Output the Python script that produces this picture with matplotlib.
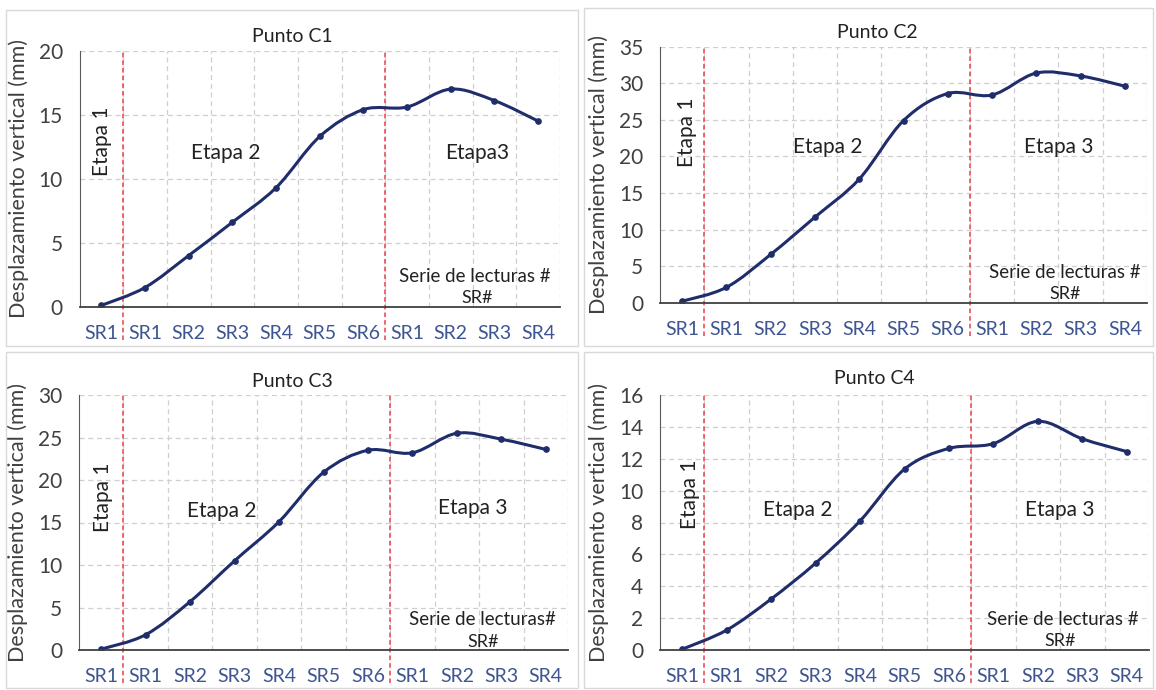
import numpy as np
import matplotlib.pyplot as plt
from matplotlib.path import Path
from matplotlib.patches import PathPatch, Rectangle

plt.rcParams['font.family'] = ['Lato', 'DejaVu Sans']

# x categories (series of readings)
x_labels = ['SR1', 'SR1', 'SR2', 'SR3', 'SR4', 'SR5', 'SR6', 'SR1', 'SR2', 'SR3', 'SR4']

# vertical displacement (mm)
c1 = [0.1, 1.5, 4.0, 6.6, 9.3, 13.3, 15.4, 15.6, 17.0, 16.1, 14.5]
c2 = [0.2, 2.1, 6.6, 11.7, 16.9, 24.9, 28.6, 28.4, 31.4, 31.0, 29.6]
c3 = [0.1, 1.8, 5.7, 10.5, 15.1, 20.9, 23.5, 23.2, 25.5, 24.8, 23.6]
c4 = [0.05, 1.25, 3.2, 5.45, 8.1, 11.35, 12.65, 12.95, 14.35, 13.25, 12.45]

titles = ['Punto C1', 'Punto C2', 'Punto C3', 'Punto C4']
series = [c1, c2, c3, c4]
ymax = [20, 35, 30, 16]
ystep = [5, 5, 5, 2]
stage_bounds = [0.5, 6.5]

navy = '#1F2D6B'
tick_blue = '#3E5592'
grey_txt = '#404040'

fig = plt.figure(figsize=(11.56, 6.9), dpi=100)

# panel frames (pixels: x0, y0_top, x1, y1_bottom)
frames = [(6, 10, 578, 346), (584, 8, 1153, 346), (6, 352, 578, 688), (584, 352, 1153, 688)]
for fx0, fy0, fx1, fy1 in frames:
    fig.patches.append(Rectangle((fx0 / 1156, 1 - fy1 / 690), (fx1 - fx0) / 1156, (fy1 - fy0) / 690,
                                 transform=fig.transFigure, fill=False, edgecolor='#D9D9D9', lw=1))

# axes positions in pixels (left, right, top, bottom)
axes_px = [(79.5, 560, 50.7, 306.7), (660, 1147, 46.7, 302.7), (79, 568, 395, 650), (660, 1149, 395, 650)]
title_px = [(292, 36), (877, 33), (292, 382), (874, 379)]

# text positions in data coords: etapa1, etapa2, etapa3 (centres), serie, sr# (baselines)
txt_pos = [
    [(0.02, 12.9), (2.85, 12.0), (8.6, 12.0), (8.55, 1.95), (8.6, 0.27)],
    [(0.1, 23.3), (3.3, 21.3), (8.5, 21.3), (8.65, 3.42), (8.65, 0.48)],
    [(0.05, 18.0), (2.7, 16.3), (8.35, 16.7), (8.58, 2.94), (8.6, 0.41)],
    [(0.17, 9.8), (2.6, 8.8), (8.5, 8.8), (8.55, 1.57), (8.5, 0.22)],
]
etapa3_txt = ['Etapa3', 'Etapa 3', 'Etapa 3', 'Etapa 3']
serie_txt = ['Serie de lecturas #', 'Serie de lecturas #', 'Serie de lecturas#', 'Serie de lecturas #']


def smooth_path(xs, ys, k=1 / 6):
    # excel-like smoothed line: cubic bezier segments through the points
    pts = np.column_stack([xs, ys])
    ext = np.vstack([pts[0], pts, pts[-1]])
    verts = [pts[0]]
    codes = [Path.MOVETO]
    for i in range(len(pts) - 1):
        p0, p1, p2, p3 = ext[i], ext[i + 1], ext[i + 2], ext[i + 3]
        verts += [p1 + (p2 - p0) * k, p2 - (p3 - p1) * k, p2]
        codes += [Path.CURVE4] * 3
    return Path(verts, codes)


for i in range(4):
    l, r, t, b = axes_px[i]
    ax = fig.add_axes([l / 1156, 1 - b / 690, (r - l) / 1156, (b - t) / 690])
    xs = np.arange(len(x_labels))
    ys = series[i]

    ax.add_patch(PathPatch(smooth_path(xs, ys), fill=False, edgecolor=navy, lw=2.2, zorder=3))
    ax.plot(xs, ys, 'o', color=navy, ms=3.8, zorder=4)

    ax.set_xlim(-0.5, len(x_labels) - 0.5)
    ax.set_ylim(0, ymax[i])
    ax.set_yticks(np.arange(0, ymax[i] + 0.1, ystep[i]))
    ax.set_xticks(xs)
    ax.set_xticklabels(x_labels)
    ax.set_xticks(np.arange(0.5, len(x_labels), 1), minor=True)

    ax.grid(axis='y', which='major', color='#CFCFCF', ls=(0, (4, 3)), lw=0.9)
    ax.grid(axis='x', which='minor', color='#CFCFCF', ls=(0, (4, 3)), lw=0.9)
    ax.tick_params(axis='both', which='both', length=0)
    ax.tick_params(axis='x', colors=tick_blue, labelsize=14, pad=13)
    ax.tick_params(axis='y', colors=grey_txt, labelsize=15, pad=12)

    for s in ['top', 'right']:
        ax.spines[s].set_visible(False)
    ax.spines['left'].set_color('#595959')
    ax.spines['bottom'].set_color('#404040')
    ax.spines['bottom'].set_linewidth(1.3)
    ax.spines['bottom'].set_zorder(5)

    for xb in stage_bounds:
        ax.axvline(xb, ymin=-0.13, ymax=1, color='#E8414A', ls=(0, (3, 2)), lw=1.1, clip_on=False, zorder=2)

    ax.set_ylabel('Desplazamiento vertical (mm)', fontsize=15.5, color=grey_txt, labelpad=7)

    tp = txt_pos[i]
    ax.text(tp[0][0], tp[0][1], 'Etapa 1', rotation=90, ha='center', va='center', fontsize=15, color='#222222')
    ax.text(tp[1][0], tp[1][1], 'Etapa 2', ha='center', va='center', fontsize=15, color='#222222')
    ax.text(tp[2][0], tp[2][1], etapa3_txt[i], ha='center', va='center', fontsize=15, color='#222222')
    ax.text(tp[3][0], tp[3][1], serie_txt[i], ha='center', va='baseline', fontsize=13.5, color='#222222')
    ax.text(tp[4][0], tp[4][1], 'SR#', ha='center', va='baseline', fontsize=13, color='#222222')

    tx, ty = title_px[i]
    fig.text(tx / 1156, 1 - ty / 690, titles[i], ha='center', va='center', fontsize=14, color='#222222')

fig.savefig('out.png', dpi=100)
